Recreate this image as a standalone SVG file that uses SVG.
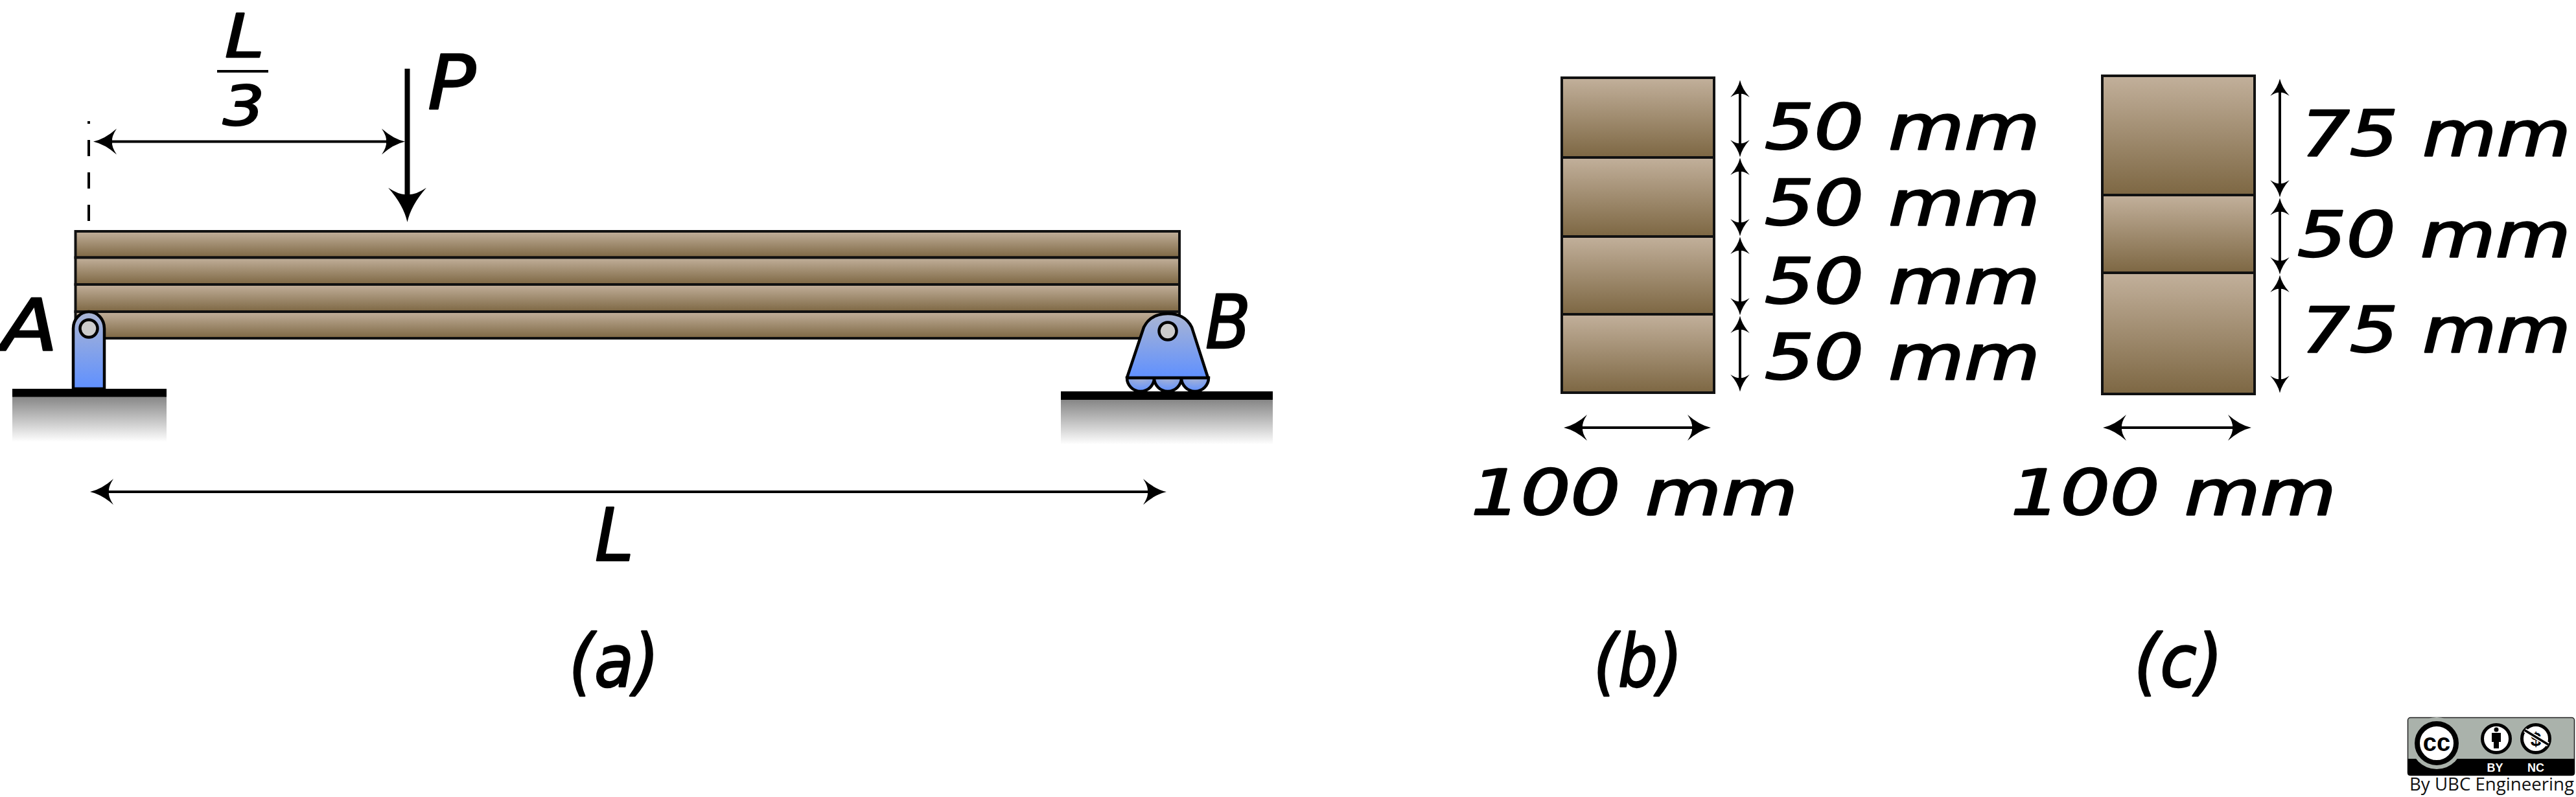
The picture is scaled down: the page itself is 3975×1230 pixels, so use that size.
<svg xmlns="http://www.w3.org/2000/svg" width="3975" height="1230" viewBox="0 0 3975 1230">
<defs>
<linearGradient id="wood" x1="0" y1="0" x2="0" y2="1"><stop offset="0" stop-color="#c2b09b"/><stop offset="1" stop-color="#7d6743"/></linearGradient>
<linearGradient id="blue" x1="0" y1="0" x2="0" y2="1"><stop offset="0" stop-color="#aab5d3"/><stop offset="1" stop-color="#5f90ff"/></linearGradient>
<radialGradient id="roller" cx="0.5" cy="0" r="1"><stop offset="0" stop-color="#aab5d3"/><stop offset="1" stop-color="#5f90ff"/></radialGradient>
<linearGradient id="ground" x1="0" y1="0" x2="0" y2="1"><stop offset="0" stop-color="#868686"/><stop offset="1" stop-color="#ffffff"/></linearGradient>
<marker id="head" viewBox="-37 -21 38 42" refX="-25" refY="0" markerUnits="userSpaceOnUse" markerWidth="38" markerHeight="42" orient="auto-start-reverse"><path d="M0 0Q-18 -4 -36 -20Q-28 -8 -29 0Q-28 8 -36 20Q-18 4 0 0Z" fill="#000"/></marker>
<marker id="headS" viewBox="-37 -21 38 42" refX="-25" refY="0" markerUnits="userSpaceOnUse" markerWidth="28" markerHeight="31" orient="auto-start-reverse"><path d="M0 0Q-18 -4 -36 -20Q-28 -8 -29 0Q-28 8 -36 20Q-18 4 0 0Z" fill="#000"/></marker>
<marker id="headL" viewBox="-37 -21 38 42" refX="-25" refY="0" markerUnits="userSpaceOnUse" markerWidth="56" markerHeight="62" orient="auto-start-reverse"><path d="M0 0Q-18 -4 -36 -20Q-28 -8 -29 0Q-28 8 -36 20Q-18 4 0 0Z" fill="#000"/></marker>
</defs>
<style>
.w{fill:url(#wood);stroke:#111;stroke-width:4}
.s{fill:url(#blue);stroke:#000;stroke-width:4.5;stroke-linejoin:round}
.r{fill:url(#roller);stroke:#000;stroke-width:4.5}
.pin{fill:#ccc;stroke:#000;stroke-width:4.5}
.gnd{fill:url(#ground)}
.d{stroke:#000;stroke-width:4;fill:none;marker-start:url(#head);marker-end:url(#head)}
.v{stroke:#000;stroke-width:4;fill:none;marker-start:url(#headS);marker-end:url(#headS)}
.t{font-family:"DejaVu Sans",sans-serif;font-style:oblique;fill:#000;stroke:#000;stroke-width:2.5;stroke-linejoin:round}
.m{font-size:96px}
.p{font-size:112px}
.bd{font-family:"Liberation Sans",Arial,sans-serif;font-weight:700}
</style>
<rect width="3975" height="1230" fill="#fff"/>

<g id="beam">
<rect class="w" x="116.500" y="357" width="1703.500" height="40.500"/>
<rect class="w" x="116.500" y="397.500" width="1703.500" height="41.500"/>
<rect class="w" x="116.500" y="439" width="1703.500" height="42"/>
<rect class="w" x="116.500" y="481" width="1703.500" height="41"/>
</g>

<g id="ground-a"><rect class="gnd" x="19" y="612" width="238" height="70"/><rect x="19" y="600" width="238" height="12.500" fill="#000"/></g>
<g id="ground-b"><rect class="gnd" x="1637" y="617" width="327" height="69"/><rect x="1637" y="604" width="327" height="13" fill="#000"/></g>

<g id="support-a">
<path class="s" d="M113 600V507A24 26 0 0 1 161 507V600Z"/>
<ellipse class="pin" cx="137" cy="507" rx="13.500" ry="13.500"/>
</g>
<g id="support-b">
<path class="r" d="M1739 583A21 21 0 0 0 1781 583Z"/>
<path class="r" d="M1781 583A21 21 0 0 0 1823 583Z"/>
<path class="r" d="M1823 583A21 21 0 0 0 1865 583Z"/>
<path class="s" d="M1739 583L1765 505C1772 491 1785 484 1802 484C1819 484 1832 491 1839 505L1864 583Z"/>
<circle class="pin" cx="1802" cy="511" r="13.500"/>
</g>

<g id="section-b">
<rect class="w" x="2410" y="120" width="235" height="123"/>
<rect class="w" x="2410" y="243" width="235" height="122"/>
<rect class="w" x="2410" y="365" width="235" height="120"/>
<rect class="w" x="2410" y="485" width="235" height="121"/>
</g>
<g id="section-c">
<rect class="w" x="3244" y="117" width="235" height="184"/>
<rect class="w" x="3244" y="301" width="235" height="120"/>
<rect class="w" x="3244" y="421" width="235" height="187"/>
</g>

<g id="connectors">
<line x1="137" y1="187" x2="137" y2="342" stroke="#000" stroke-width="4" stroke-dasharray="25 25" stroke-dashoffset="21"/>
<line class="d" x1="169" y1="218.500" x2="600" y2="218.500"/>
<line x1="628.500" y1="106" x2="628.500" y2="306" stroke="#000" stroke-width="8" marker-end="url(#headL)"/>
<line class="d" x1="164" y1="759" x2="1775" y2="759"/>
<line x1="335" y1="110" x2="414" y2="110" stroke="#000" stroke-width="4"/>

<line class="v" x1="2685" y1="142" x2="2685" y2="224"/>
<line class="v" x1="2685" y1="262" x2="2685" y2="346"/>
<line class="v" x1="2685" y1="384" x2="2685" y2="468"/>
<line class="v" x1="2685" y1="506" x2="2685" y2="586"/>
<line class="d" x1="2438" y1="660" x2="2615" y2="660"/>

<line class="v" x1="3518" y1="140" x2="3518" y2="286"/>
<line class="v" x1="3518" y1="324" x2="3518" y2="405"/>
<line class="v" x1="3518" y1="443" x2="3518" y2="588"/>
<line class="d" x1="3270" y1="660" x2="3449" y2="660"/>
</g>

<g id="labels">
<text class="t" x="347" y="88" font-size="92" textLength="61" lengthAdjust="spacingAndGlyphs">L</text>
<text class="t" x="344" y="193" font-size="84" textLength="64" lengthAdjust="spacingAndGlyphs">3</text>
<text class="t" x="660" y="168" font-size="116" textLength="74" lengthAdjust="spacingAndGlyphs">P</text>
<text class="t" x="2" y="541" font-size="110" textLength="87" lengthAdjust="spacingAndGlyphs">A</text>
<text class="t" x="1860" y="537" font-size="114" textLength="70" lengthAdjust="spacingAndGlyphs">B</text>
<text class="t" x="918" y="865" font-size="112" textLength="60" lengthAdjust="spacingAndGlyphs">L</text>
<text class="t p" x="878" y="1059" textLength="139" lengthAdjust="spacingAndGlyphs">(a)</text>
<text class="t p" x="2459" y="1059" textLength="137" lengthAdjust="spacingAndGlyphs">(b)</text>
<text class="t p" x="3293" y="1059" textLength="137" lengthAdjust="spacingAndGlyphs">(c)</text>

<text class="t m" x="2723" y="230" textLength="425" lengthAdjust="spacingAndGlyphs">50 mm</text>
<text class="t m" x="2723" y="347" textLength="425" lengthAdjust="spacingAndGlyphs">50 mm</text>
<text class="t m" x="2723" y="468" textLength="425" lengthAdjust="spacingAndGlyphs">50 mm</text>
<text class="t m" x="2723" y="585" textLength="425" lengthAdjust="spacingAndGlyphs">50 mm</text>
<text class="t m" x="2270" y="794" textLength="504" lengthAdjust="spacingAndGlyphs">100 mm</text>

<text class="t m" x="3551" y="240" textLength="416" lengthAdjust="spacingAndGlyphs">75 mm</text>
<text class="t m" x="3545" y="396" textLength="422" lengthAdjust="spacingAndGlyphs">50 mm</text>
<text class="t m" x="3551" y="543" textLength="416" lengthAdjust="spacingAndGlyphs">75 mm</text>
<text class="t m" x="3103" y="794" textLength="502" lengthAdjust="spacingAndGlyphs">100 mm</text>
</g>

<g id="cc-badge">
<rect x="3715.500" y="1107.500" width="257" height="89" rx="4" fill="#aab2ab" stroke="#222" stroke-width="1.500"/>
<path d="M3715 1171H3973V1193a4 4 0 0 1 -4 4H3719a4 4 0 0 1 -4 -4Z" fill="#000"/>
<circle cx="3760" cy="1147" r="40" fill="#aab2ab"/>
<circle cx="3760" cy="1147" r="30" fill="#fff" stroke="#000" stroke-width="8"/>
<text class="bd" x="3760" y="1159" font-size="38" text-anchor="middle" fill="#000">cc</text>
<circle cx="3852" cy="1140" r="21.500" fill="#fff" stroke="#000" stroke-width="5"/>
<circle cx="3852" cy="1126" r="3.500" fill="#000"/>
<path d="M3845 1131H3859V1145H3856V1155H3848V1145H3845Z" fill="#000"/>
<circle cx="3913" cy="1140" r="21.500" fill="#fff" stroke="#000" stroke-width="5"/>
<text class="bd" x="3913" y="1151" font-size="30" text-anchor="middle" fill="#000">$</text>
<line x1="3896" y1="1127" x2="3932" y2="1149" stroke="#fff" stroke-width="7"/>
<line x1="3896" y1="1127" x2="3932" y2="1149" stroke="#000" stroke-width="3.500"/>
<text class="bd" x="3850" y="1191" font-size="18" text-anchor="middle" fill="#fff">BY</text>
<text class="bd" x="3913" y="1191" font-size="18" text-anchor="middle" fill="#fff">NC</text>
<text x="3718" y="1220" font-family="'Open Sans',sans-serif" font-size="27" fill="#111" textLength="254" lengthAdjust="spacingAndGlyphs">By UBC Engineering</text>
</g>
</svg>
